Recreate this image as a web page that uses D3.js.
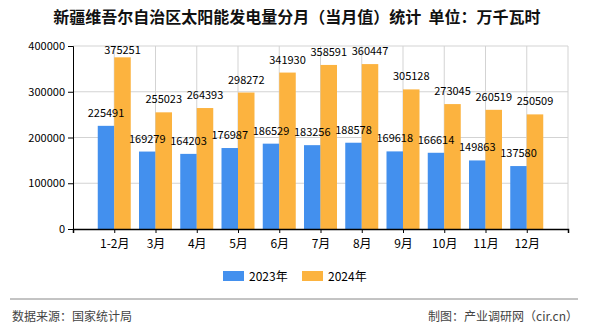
<!DOCTYPE html>
<html>
<head>
<meta charset="utf-8">
<script src="https://cdn.jsdelivr.net/npm/d3@7"></script>
<style>
  body { margin: 0; background: #fff; }
  svg { display: block; font-family: "Noto Sans CJK SC", "Liberation Sans", sans-serif; }
</style>
</head>
<body>
<div id="chart"></div>
<script>
const months = ["1-2月", "3月", "4月", "5月", "6月", "7月", "8月", "9月", "10月", "11月", "12月"];
const values2023 = [225491, 169279, 164203, 176987, 186529, 183256, 188578, 169618, 166614, 149863, 137580];
const values2024 = [375251, 255023, 264393, 298272, 341930, 358591, 360447, 305128, 273045, 260519, 250509];
const yTicks = [0, 100000, 200000, 300000, 400000];
const seriesNames = ["2023年", "2024年"];
const colors = ["#4390ee", "#fcb33f"];

const W = 590, H = 330;
const M = {TOP: 46, BOTTOM: 101, LEFT: 73, RIGHT: 22};

const svg = d3.select("#chart").append("svg")
  .attr("width", W).attr("height", H);

svg.append("text")
  .attr("x", 297).attr("y", 23)
  .attr("text-anchor", "middle")
  .attr("font-size", 16).attr("font-weight", "bold")
  .attr("fill", "#111")
  .text("新疆维吾尔自治区太阳能发电量分月（当月值）统计\u00a0\u00a0单位：万千瓦时");

const x = d3.scaleLinear().domain([0, months.length + 1]).range([M.LEFT, W - M.RIGHT]);
const y = d3.scaleLinear().domain([0, 400000]).range([H - M.BOTTOM, M.TOP]);
const bw = (x(1) - x(0)) * 0.4;

// grid
const g = svg.append("g");
g.selectAll(".hg").data(yTicks.slice(1)).enter().append("line")
  .attr("x1", x(0)).attr("x2", x(months.length + 1))
  .attr("y1", d => y(d)).attr("y2", d => y(d))
  .attr("stroke", "#d3d3d3");
g.selectAll(".vg").data(d3.range(1, months.length + 2)).enter().append("line")
  .attr("x1", d => x(d)).attr("x2", d => x(d))
  .attr("y1", y(0)).attr("y2", y(400000))
  .attr("stroke", "#d3d3d3");

// bars
const series = [values2023, values2024];
series.forEach((vals, s) => {
  svg.append("g").selectAll("rect").data(vals).enter().append("rect")
    .attr("x", (d, i) => x(i + 1) - bw + s * bw)
    .attr("y", d => y(d))
    .attr("width", bw)
    .attr("height", d => y(0) - y(d))
    .attr("fill", colors[s]);
});
// value labels on top of all bars
series.forEach((vals, s) => {
  svg.append("g").selectAll("text").data(vals).enter().append("text")
    .attr("x", (d, i) => x(i + 1) - bw / 2 + s * bw)
    .attr("y", d => Math.max(y(d) - 9, 54))
    .attr("text-anchor", "middle")
    .attr("font-size", 11)
    .attr("fill", "#000")
    .text(d => d);
});

// axes
const yAxis = svg.append("g")
  .attr("transform", `translate(${M.LEFT},0)`)
  .call(d3.axisLeft(y).tickValues(yTicks).tickSize(5).tickFormat(d3.format("d")));
yAxis.select(".domain").attr("stroke", "#000");
yAxis.selectAll("text").attr("font-size", 11).attr("fill", "#000")
  .attr("font-family", "Noto Sans CJK SC, sans-serif");

const xAxis = svg.append("g")
  .attr("transform", `translate(0,${y(0)})`)
  .call(d3.axisBottom(x).tickValues(d3.range(0, months.length + 2)).tickSize(4)
    .tickFormat(d => months[d - 1] || ""));
xAxis.select(".domain").attr("stroke", "#000").attr("stroke-width", 1.5);
xAxis.selectAll("text").attr("font-size", 12).attr("fill", "#000").attr("dy", "1em")
  .attr("font-family", "Noto Sans CJK SC, sans-serif");

// legend
const legend = svg.append("g");
seriesNames.forEach((name, s) => {
  const lx = 223 + s * 79;
  legend.append("rect").attr("x", lx).attr("y", 271).attr("width", 21).attr("height", 10)
    .attr("fill", colors[s]);
  legend.append("text").attr("x", lx + 26).attr("y", 281)
    .attr("font-size", 12).attr("fill", "#000").text(name);
});

// footer
svg.append("line").attr("x1", 10).attr("x2", 578).attr("y1", 299).attr("y2", 299)
  .attr("stroke", "#888").attr("stroke-width", 1);
svg.append("text").attr("x", 12).attr("y", 321)
  .attr("font-size", 12).attr("fill", "#444").text("数据来源：国家统计局");
svg.append("text").attr("x", 578).attr("y", 321).attr("text-anchor", "end")
  .attr("font-size", 12).attr("fill", "#444").text("制图：产业调研网（cir.cn）");
</script>
</body>
</html>
